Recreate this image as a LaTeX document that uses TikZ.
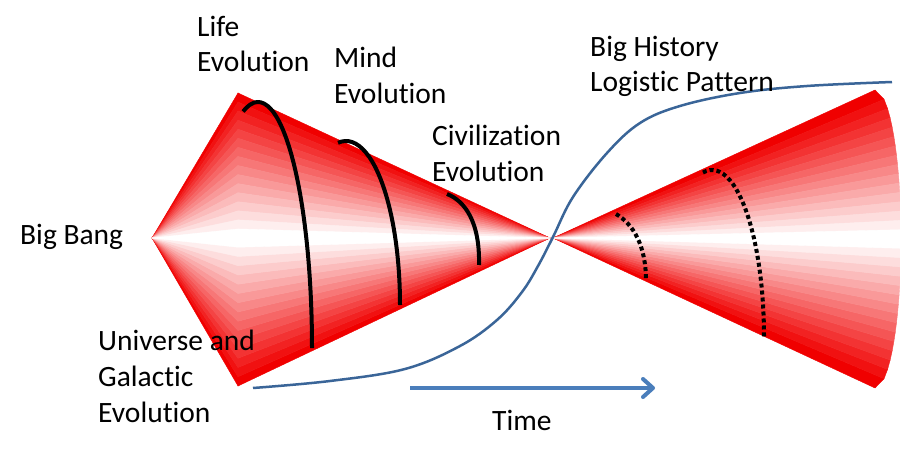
\documentclass[tikz,border=0pt]{standalone}
\usepackage{fontspec}
\setmainfont{Carlito}[Ligatures={NoCommon}]
\usetikzlibrary{arrows.meta,calc}
\definecolor{cred}{RGB}{240,0,0}
\definecolor{curveblue}{RGB}{58,101,152}
\definecolor{arrowblue}{RGB}{74,126,187}
\tikzset{
  lbl/.style={anchor=base west, inner sep=0pt, align=left, font=\fontsize{29.5}{35.8}\selectfont},
  evoarc/.style={draw=black, line width=4pt},
  futarc/.style={draw=black, line width=4pt, dash pattern=on 4pt off 3pt},
  logcurve/.style={draw=curveblue, line width=2.5pt},
  timearrow/.style={draw=arrowblue, line width=4pt, -{Straight Barb[length=10pt,width=18pt,line cap=round,line join=round]}},
}
\begin{document}
\begin{tikzpicture}[x=1pt,y=-1pt]
\useasboundingbox (0,0) rectangle (900,460);
\fill[white] (0,0) rectangle (900,460);
% key points
\coordinate (bang) at (152,238);
\coordinate (apexL) at (550,238);
\coordinate (apexR) at (553,238);
% left cone and Big Bang fan: bands
\foreach \i in {0,...,15}{
  \pgfmathsetmacro{\ya}{93+\i*145/16}
  \pgfmathsetmacro{\yb}{93+(\i+1)*145/16}
  \pgfmathsetmacro{\yc}{386-\i*148/16}
  \pgfmathsetmacro{\yd}{386-(\i+1)*148/16}
  \pgfmathsetmacro{\p}{100*(15-\i)/15}
  \colorlet{bandc}{cred!\p!white}
  \filldraw[fill=bandc,draw=bandc,line width=0.4pt] (apexL) -- (238,\ya) -- (238,\yb) -- cycle;
  \filldraw[fill=bandc,draw=bandc,line width=0.4pt] (bang) -- (238,\ya) -- (238,\yb) -- cycle;
  \filldraw[fill=bandc,draw=bandc,line width=0.4pt] (apexL) -- (238,\yc) -- (238,\yd) -- cycle;
  \filldraw[fill=bandc,draw=bandc,line width=0.4pt] (bang) -- (238,\yc) -- (238,\yd) -- cycle;
}
% right cone bands
\foreach \i in {0,...,15}{
  \pgfmathsetmacro{\ya}{90+\i*149/16}
  \pgfmathsetmacro{\yb}{90+(\i+1)*149/16}
  \pgfmathsetmacro{\xa}{875+26*sqrt(max(0,1-((\ya-239)/149)^2))}
  \pgfmathsetmacro{\xb}{875+26*sqrt(max(0,1-((\yb-239)/149)^2))}
  \pgfmathsetmacro{\yc}{388-\i*149/16}
  \pgfmathsetmacro{\yd}{388-(\i+1)*149/16}
  \pgfmathsetmacro{\xc}{875+26*sqrt(max(0,1-((\yc-239)/149)^2))}
  \pgfmathsetmacro{\xd}{875+26*sqrt(max(0,1-((\yd-239)/149)^2))}
  \pgfmathsetmacro{\p}{100*(15-\i)/15}
  \colorlet{bandc}{cred!\p!white}
  \filldraw[fill=bandc,draw=bandc,line width=0.4pt] (apexR) -- (\xa,\ya) -- (\xb,\yb) -- cycle;
  \filldraw[fill=bandc,draw=bandc,line width=0.4pt] (apexR) -- (\xc,\yc) -- (\xd,\yd) -- cycle;
}
% evolution arcs (solid)
\draw[evoarc] ([shift={(-106:54 and 246)}]258,348) arc[start angle=-106,end angle=0,x radius=54,y radius=246];
\draw[evoarc] ([shift={(-98.5:54 and 164)}]346,305) arc[start angle=-98.5,end angle=0,x radius=54,y radius=164];
\draw[evoarc] (447,194) .. controls (465,201) and (480,222) .. (479,265);
% future arcs (dotted)
\draw[futarc] (616,214) .. controls (633,224) and (646,245) .. (646,281);
\draw[futarc] ([shift={(-100:52 and 167)}]712,337) arc[start angle=-100,end angle=0,x radius=52,y radius=167];
% logistic curve
\draw[logcurve] plot[smooth, tension=0.6] coordinates {(253,388) (330,381) (405,369) (460,346) (497,320) (522,292) (538,266) (553,237) (573,197) (607,153) (640,123) (680,106) (740,93) (807,86) (892,82)};
% time arrow
\coordinate (t0) at (410,388);
\coordinate (t1) at (655,388);
\draw[timearrow] (t0) -- (t1);
% labels (anchor = baseline of last line)
\node[lbl] (life) at (197,72) {Life\\Evolution};
\node[lbl] (mind) at (334,103) {Mind\\Evolution};
\node[lbl] (civ) at (432,181) {Civilization\\Evolution};
\node[lbl] (bh) at (590,92) {Big History\\Logistic Pattern};
\node[lbl] (bb) at (20,244) {Big Bang};
\node[lbl] (uni) at (98,422) {Universe and\\Galactic\\Evolution};
\node[lbl] (time) at (492,430) {Time};
\end{tikzpicture}
\end{document}
